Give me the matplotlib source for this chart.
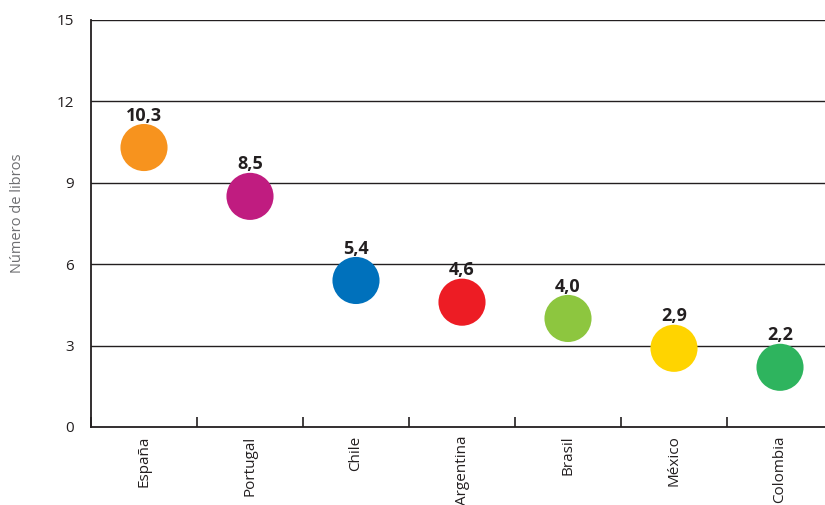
import matplotlib.pyplot as plt

paises = ["España", "Portugal", "Chile", "Argentina", "Brasil", "México", "Colombia"]
libros = [10.3, 8.5, 5.4, 4.6, 4.0, 2.9, 2.2]
colores = ["#F7931E", "#C01C80", "#0071BC", "#ED1C24", "#8DC63F", "#FFD400", "#2EB45E"]
yticks = [0, 3, 6, 9, 12, 15]

plt.rcParams['font.family'] = ['Open Sans', 'DejaVu Sans']

fig = plt.figure(figsize=(8.25, 5.05), dpi=100)
# axes run slightly past the right edge of the figure
ax = fig.add_axes([91 / 825, 78 / 505, 742 / 825, 407 / 505])

x = list(range(len(paises)))
for v in yticks[1:]:
    ax.axhline(v, color="#231F20", linewidth=1.0, zorder=1)

ax.scatter(x, libros, s=1150, c=colores, linewidths=0, zorder=3)

for xi, v in zip(x, libros):
    ax.annotate(f"{v:.1f}".replace(".", ","), (xi, v), xytext=(0, 23),
                textcoords="offset points", ha="center", va="center",
                fontsize=13, fontweight="bold", color="#231F20")

ax.set_xlim(-0.5, len(paises) - 0.5)
ax.set_ylim(0, 15)
ax.set_yticks(yticks)
ax.tick_params(axis="y", length=0, pad=12, labelsize=11, labelcolor="#231F20")

# category boundaries as small inward ticks
ax.set_xticks([i - 0.5 for i in range(len(paises) + 1)])
ax.set_xticklabels([])
ax.set_xticks(x, minor=True)
ax.set_xticklabels(paises, minor=True, rotation=90, fontsize=11, color="#231F20")
ax.tick_params(axis="x", which="major", direction="in", length=7, width=1.2, color="#231F20")
ax.tick_params(axis="x", which="minor", length=0, pad=6)
for lbl in ax.get_xticklabels(minor=True):
    lbl.set_verticalalignment("top")

for side in ["top", "right"]:
    ax.spines[side].set_visible(False)
for side in ["left", "bottom"]:
    ax.spines[side].set_color("#231F20")
    ax.spines[side].set_linewidth(1.3)

fig.text(18 / 825, 1 - 213 / 505, "Número de libros", rotation=90, ha="center", va="center",
         fontsize=10.5, color="#6D6E71")

fig.savefig("out.png", dpi=100)
